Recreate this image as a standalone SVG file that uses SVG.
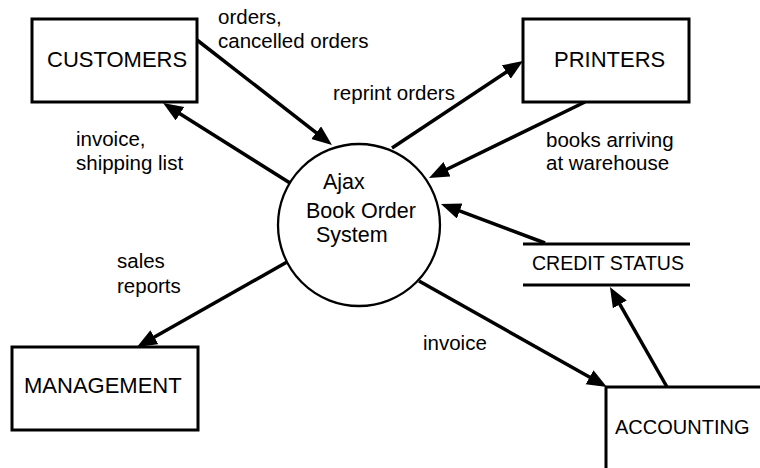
<svg xmlns="http://www.w3.org/2000/svg" width="760" height="468" viewBox="0 0 760 468">
<style>
.box{fill:#fff;stroke:#000;stroke-width:3}
.proc{fill:#fff;stroke:#000;stroke-width:2.3}
.store{stroke:#000;stroke-width:3}
.flow{fill:none;stroke:#000;stroke-width:3.5;marker-end:url(#ah)}
.nt{font-family:"Liberation Sans",Arial,sans-serif;font-size:22px;fill:#000}
.lb{font-family:"Liberation Sans",Arial,sans-serif;font-size:20.5px;fill:#000}
</style>
<defs>
<marker id="ah" markerUnits="userSpaceOnUse" markerWidth="22" markerHeight="18" refX="8" refY="8" orient="auto" viewBox="0 0 22 18">
<path d="M0,0 L20,8 L0,16 z" fill="#000"/>
</marker>
</defs>
<rect width="760" height="468" fill="#fff"/>
<g id="connectors">
<line class="flow" x1="197" y1="40" x2="322.5" y2="137.6"/>
<line class="flow" x1="290" y1="183" x2="173.2" y2="109.4"/>
<line class="flow" x1="392" y1="148" x2="513" y2="67.6"/>
<line class="flow" x1="585" y1="102" x2="439.8" y2="172.7"/>
<line class="flow" x1="545" y1="243" x2="452.2" y2="208.2"/>
<line class="flow" x1="287" y1="262" x2="147.4" y2="341.1"/>
<line class="flow" x1="419" y1="281" x2="596.5" y2="381.1"/>
<line class="flow" x1="667" y1="387" x2="615.9" y2="297.4"/>
<text class="lb" x="218" y="24">orders,</text>
<text class="lb" x="218" y="48">cancelled orders</text>
<text class="lb" x="76" y="146">invoice,</text>
<text class="lb" x="76" y="170">shipping list</text>
<text class="lb" x="333" y="100">reprint orders</text>
<text class="lb" x="546" y="147">books arriving</text>
<text class="lb" x="546" y="170">at warehouse</text>
<text class="lb" x="117" y="268">sales</text>
<text class="lb" x="117" y="293">reports</text>
<text class="lb" x="423" y="350">invoice</text>
</g>
<g id="customers">
<rect class="box" x="32" y="19" width="165" height="83"/>
<text class="nt" x="47" y="67">CUSTOMERS</text>
</g>
<g id="printers">
<rect class="box" x="523" y="19" width="166" height="83"/>
<text class="nt" x="554" y="67">PRINTERS</text>
</g>
<g id="management">
<rect class="box" x="12" y="347" width="186" height="83"/>
<text class="nt" x="24" y="393">MANAGEMENT</text>
</g>
<g id="accounting">
<rect class="box" x="606" y="387" width="180" height="110"/>
<text class="nt" x="615" y="434" style="font-size:20px">ACCOUNTING</text>
</g>
<g id="credit-status">
<line class="store" x1="523" y1="244" x2="690" y2="244"/>
<line class="store" x1="523" y1="285" x2="690" y2="285"/>
<text class="nt" x="532" y="270" style="font-size:19.5px" textLength="152" lengthAdjust="spacingAndGlyphs">CREDIT STATUS</text>
</g>
<g id="ajax-system">
<circle class="proc" cx="359" cy="225" r="81"/>
<text class="nt" x="323" y="189" style="font-size:21.5px">Ajax</text>
<text class="nt" x="306" y="218" style="font-size:21.5px">Book Order</text>
<text class="nt" x="316" y="242" style="font-size:21.5px">System</text>
</g>
</svg>
